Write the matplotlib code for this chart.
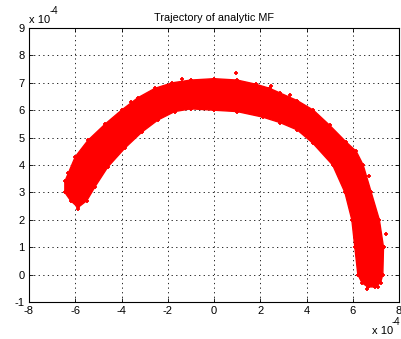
import matplotlib
matplotlib.use("Agg")
import matplotlib.pyplot as plt
import numpy as np

# Data (units of 1e-4): band outline
upper_x = [-6.45, -6.45, -6.3, -6.0, -5.45, -4.7, -4.0, -3.3, -2.55, -1.8, -1.0, 0.0,
           1.0, 1.8, 2.4, 2.85, 3.6, 4.3, 5.0, 5.7, 6.15, 6.45, 6.8, 7.15, 7.33, 7.3, 7.2,
           6.95, 6.65]
upper_y = [3.0, 3.4, 3.7, 4.3, 4.9, 5.5, 6.0, 6.45, 6.8, 7.0, 7.1, 7.15,
           7.1, 6.95, 6.8, 6.63, 6.35, 6.0, 5.45, 4.85, 4.5, 4.0, 3.0, 2.0, 1.0, 0.0, -0.3,
           -0.45, -0.45]
lower_x = [6.4, 6.22, 6.09, 5.96, 5.66, 5.13, 4.27, 3.6, 2.85, 2.1, 1.0, 0.0, -1.0,
           -1.7, -2.43, -3.12, -3.85, -4.59, -5.15, -5.5, -5.88, -6.2]
lower_y = [-0.3, 0.0, 1.0, 2.0, 3.0, 4.0, 4.8, 5.28, 5.55, 5.75, 5.95, 6.0, 6.05,
           5.95, 5.64, 5.2, 4.62, 3.93, 3.2, 2.7, 2.45, 2.7]
# stray points
out_x = [0.95, -1.4, 2.45, 4.9, 6.6, 7.08, 6.9, -5.9, 3.3, -3.6, 7.45, 6.7]
out_y = [7.36, 7.15, 6.9, 5.1, -0.53, -0.45, 1.2, 2.4, 6.55, 6.3, 1.5, 3.6]

xticks = [-8, -6, -4, -2, 0, 2, 4, 6, 8]
yticks = [-1, 0, 1, 2, 3, 4, 5, 6, 7, 8, 9]
title = "Trajectory of analytic MF"

plt.rcParams['font.family'] = ['Liberation Sans', 'DejaVu Sans']
fig = plt.figure(figsize=(4.01, 3.39), dpi=100)
ax = fig.add_axes([29/401, 37/339, 370/401, 274/339])

px = upper_x + lower_x
py = upper_y + lower_y
ax.fill(px, py, color='red', lw=1.0, ec='red', zorder=3)
ax.plot(px, py, ls='none', marker='+', ms=3, mew=1.3, color='red', zorder=3)
ax.plot(out_x, out_y, ls='none', marker='+', ms=3, mew=1.3, color='red', zorder=3)

ax.set_xlim(-8, 8)
ax.set_ylim(-1, 9)
ax.set_xticks(xticks)
ax.set_yticks(yticks)
ax.set_xticklabels([str(t) for t in xticks])
ax.set_yticklabels([str(t) for t in yticks])
ax.tick_params(direction='in', length=3, width=0.6, labelsize=8, top=True, right=True,
               pad=3)
ax.grid(True, ls=(0, (1.5, 4)), color='black', lw=0.6)
ax.set_axisbelow(True)
for s in ax.spines.values():
    s.set_linewidth(0.8)
ax.set_title(title, fontsize=7.8, pad=5)

fig.text(29/401, 1 - 23/339, "x 10", fontsize=8, ha='left', va='baseline')
fig.text(50/401, 1 - 14/339, "-4", fontsize=7, ha='left', va='baseline')
fig.text(372/401, 1 - 334/339, "x 10", fontsize=8, ha='left', va='baseline')
fig.text(392/401, 1 - 325/339, "-4", fontsize=7, ha='left', va='baseline')

fig.savefig("out.png", dpi=100)
